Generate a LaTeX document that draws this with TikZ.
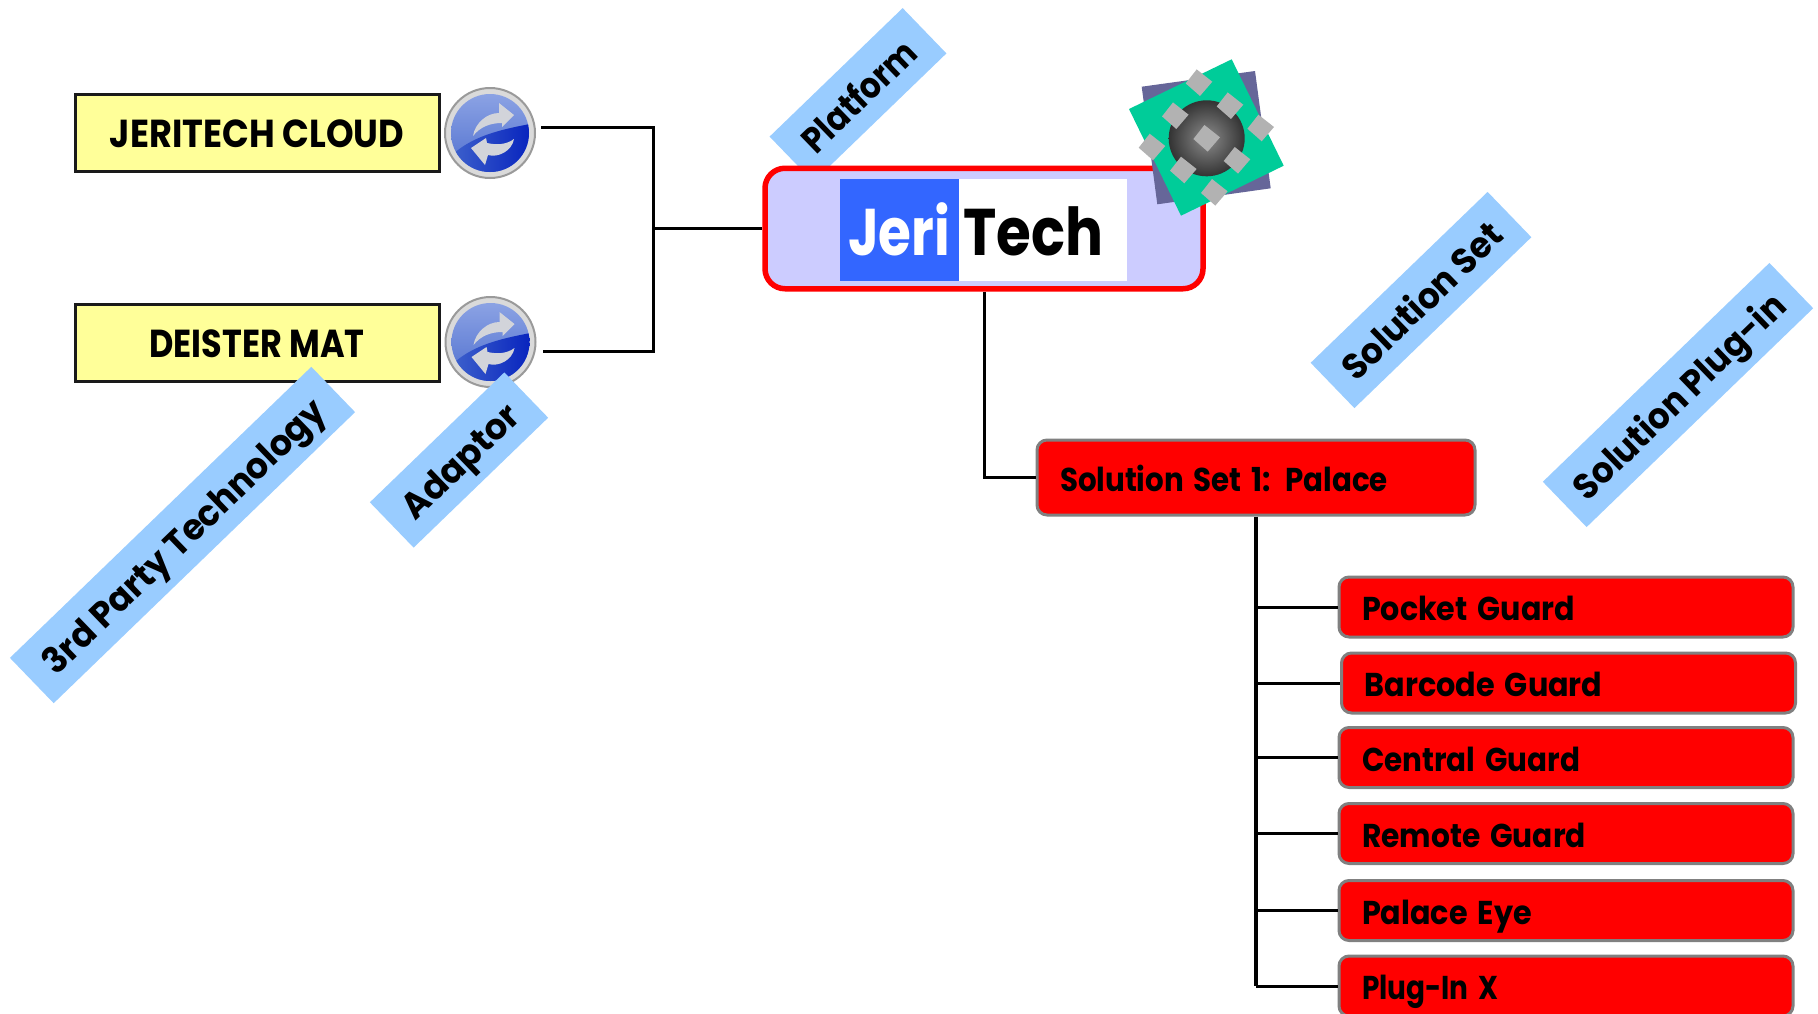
\documentclass[tikz,border=0pt]{standalone}
\usepackage{fontspec}
\usepackage{graphicx}
\setmainfont{Poppins}
\definecolor{lbl}{HTML}{99CCFF}
\definecolor{yel}{HTML}{FFFF99}
\definecolor{lil}{HTML}{CCCCFF}
\definecolor{jblue}{HTML}{3366FF}
\definecolor{purp}{HTML}{666699}
\definecolor{grn}{HTML}{00CC99}
\definecolor{dia}{HTML}{B2B2B2}
\definecolor{bord}{HTML}{808080}
\definecolor{skyA}{HTML}{8CA3E4}
\definecolor{skyB}{HTML}{4F6FCF}
\definecolor{deepA}{HTML}{3E62CC}
\definecolor{deepB}{HTML}{0824BE}
\definecolor{arrowgrey}{HTML}{D2D4DA}
\definecolor{nearblack}{HTML}{1A1A1A}
\definecolor{ringdark}{HTML}{9A9A9A}
\definecolor{ringlight}{HTML}{DADADA}
\definecolor{ballin}{HTML}{8C8C8C}
\definecolor{ballout}{HTML}{333333}
\newcommand{\ft}[2]{\resizebox{#1pt}{\height}{#2}}
\newcommand{\SyncIcon}[1]{%
  \begin{scope}[shift={(#1.center)}]
    \begin{scope}
      \clip (0,0) circle (39);
      \shade[top color=skyA,bottom color=skyB] (-40,-40) rectangle (40,40);
      \shade[left color=deepA,right color=deepB] (-40,24) .. controls (-20,4) and (8,-3) .. (40,-9) -- (40,40) -- (-40,40) -- cycle;
    \end{scope}
    \fill[arrowgrey] (-17,3) .. controls (-15,-10) and (-3,-20) .. (9,-20) -- (9,-30) -- (24,-18) -- (12,-6) -- (12,-10) .. controls (0,-10) and (-10,-6) .. (-17,3) -- cycle;
    \fill[arrowgrey] (24,6) .. controls (22,18) and (8,25) .. (-2,22) -- (-5,32) -- (-19,15) -- (-4,5) -- (-3,10) .. controls (6,12) and (16,12) .. (24,6) -- cycle;
  \end{scope}}
\tikzset{
  every node/.style={font=\bfseries},
  link/.style={draw=black,line width=3pt},
  trunk/.style={draw=black,line width=3.5pt},
  yelbox/.style={draw=nearblack,line width=3pt,fill=yel,minimum width=364pt,minimum height=77pt,inner sep=0pt,
    text height=30pt,text depth=0pt,font=\bfseries\fontsize{39}{42}\selectfont},
  redbox/.style={draw=bord,line width=3pt,fill=red,rounded corners=10pt,align=left,inner ysep=0pt,
    text height=27pt,text depth=0pt,font=\bfseries\fontsize{33}{36}\selectfont},
  setbox/.style={redbox,text width=392pt,inner xsep=23pt,minimum height=75pt},
  subbox/.style={redbox,text width=408pt,inner xsep=23pt,minimum height=60pt},
  tag/.style={fill=lbl,rotate=44,inner sep=0pt,minimum height=63pt,
    text height=29pt,text depth=0pt,font=\bfseries\fontsize{36}{40}\selectfont},
  icon/.style={circle,draw=ringdark,line width=2pt,fill=ringlight,minimum size=90pt,inner sep=0pt},
  logotext/.style={inner sep=0pt,text height=46pt,text depth=0pt,font=\bfseries\fontsize{66}{70}\selectfont},
}
\begin{document}
\begin{tikzpicture}[x=1pt,y=-1pt]
\useasboundingbox (0,0) rectangle (1818,1013);
% platform tag goes under the main box
\node[tag,minimum width=185pt] (tplat) at (858,95) {\ft{143}{Platform}};
% main node
\node[draw=red,line width=5.5pt,fill=lil,rounded corners=20pt,minimum width=438pt,minimum height=120.5pt,inner sep=0pt] (main) at (984,228.5) {};
\node[fill=jblue,minimum width=119pt,minimum height=102pt,inner sep=0pt] (lj) at (899.5,230) {};
\node[fill=white,minimum width=168pt,minimum height=102pt,inner sep=0pt] (lt) at (1043,230) {};
\node[logotext,white,anchor=base west] (ljt) at (848,255) {\ft{102}{Jeri}};
\node[logotext,black,anchor=base west] (ltt) at (963,255) {\ft{140}{Tech}};
% gadget
\fill[purp] (1141.7,86.7) -- (1255,71) -- (1270.7,188.3) -- (1157.3,204.3) -- cycle;
\fill[grn] (1231.7,59.3) -- (1283.7,165.7) -- (1181,215.7) -- (1129,109) -- cycle;
\shade[inner color=ballin,outer color=ballout] (1206.7,138.3) circle (38);
\foreach \dx/\dy in {1206.7/138.3,1199/82.7,1230/105.7,1260.7/128,1237/160.3,1214.3/192.3,1183.3/170,1152/147,1175.3/115.7}{
  \fill[dia] (\dx-2.3,\dy-13.3) -- (\dx+13.3,\dy-1) -- (\dx+1,\dy+13.3) -- (\dx-13.3,\dy+0.7) -- cycle;
}
% left boxes
\node[yelbox] (cloud) at (257,132.5) {\ft{294}{JERITECH CLOUD}};
\node[yelbox] (mat) at (257,342.5) {\ft{215}{DEISTER MAT}};
\node[icon] (icon1) at (490,133) {};
\SyncIcon{icon1}
\node[icon] (icon2) at (490.5,342) {};
\SyncIcon{icon2}
% right boxes
\node[setbox] (set) at (1256,477.5) {\ft{328}{Solution Set 1: Palace}};
\node[subbox] (pocket) at (1566,607) {\ft{213}{Pocket Guard}};
\node[subbox] (barcode) at (1568.5,683) {\ft{238}{Barcode Guard}};
\node[subbox] (central) at (1566,757.5) {\ft{218}{Central Guard}};
\node[subbox] (remote) at (1566,833.5) {\ft{224}{Remote Guard}};
\node[subbox] (eye) at (1566,910.5) {\ft{170}{Palace Eye}};
\node[subbox] (plug) at (1566,986) {\ft{136}{Plug-In X}};
% connectors
\coordinate (jn) at (653,228.5);
\coordinate (a1) at (541,127);
\coordinate (a2) at (543,351);
\draw[link] (a1) -| (jn);
\draw[link] (a2) -| (jn);
\draw[link] (jn) -- (main.west);
\draw[link] (main.south) |- (set.west);
\draw[trunk] (set.south) -- (set.south |- plug.west);
\foreach \n in {pocket,barcode,central,remote,eye,plug}{
  \draw[link] (set.south |- \n.west) -- (\n.west);
}
% tags
\node[tag,minimum width=419pt] (tparty) at (182.5,535) {\ft{378}{3rd Party Technology}};
\node[tag,minimum width=187pt] (tadapt) at (459,460) {\ft{148}{Adaptor}};
\node[tag,minimum width=246pt] (tset) at (1421,300) {\ft{208}{Solution Set}};
\node[tag,minimum width=315pt] (tplug) at (1678,395) {\ft{279}{Solution Plug-in}};
\end{tikzpicture}
\end{document}
